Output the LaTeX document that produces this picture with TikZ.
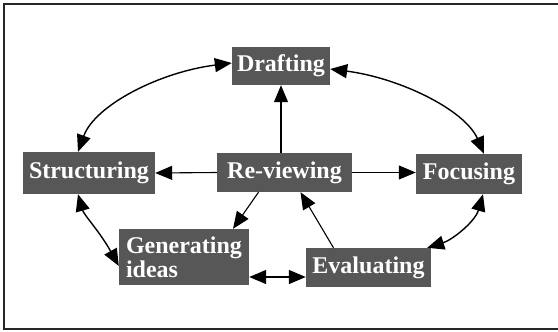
\documentclass[tikz,border=0pt]{standalone}
\usepackage{fontspec}
\setmainfont{Liberation Serif}
\usetikzlibrary{arrows.meta}
\tikzset{
  stage/.style={rectangle, fill=black!66, text=white, inner sep=0pt,
    font=\fontsize{24}{26}\selectfont\bfseries},
  tip/.tip={Triangle[length=17pt,width=14pt]},
  conn/.style={line width=1.1pt, -tip},
  bconn/.style={line width=1.4pt, tip-tip},
  frame/.style={line width=1.2pt, black!85}
}
\begin{document}
\begin{tikzpicture}[x=1pt,y=-1pt]
\useasboundingbox (0,0) rectangle (558,332);
\coordinate (ftr) at (558,4);
\coordinate (ftl) at (4,4);
\coordinate (fbl) at (4,329);
\coordinate (fbr) at (558,329);
\draw[frame] (ftr) -- (ftl) -- (fbl) -- (fbr);

\node[stage, minimum width=98pt, minimum height=38pt] (D) at (281,66) {Drafting};
\node[stage, minimum width=132pt, minimum height=42pt] (S) at (89,173) {Structuring};
\node[stage, minimum width=135pt, minimum height=39pt] (R) at (284.5,172.5) {Re-viewing};
\node[stage, minimum width=106pt, minimum height=40pt] (F) at (469,174) {Focusing};
\node[stage, minimum width=130pt, minimum height=56pt, align=left, text width=116pt,
  font=\fontsize{24}{24}\selectfont\bfseries] (G) at (184,257) {Generating\\ideas};
\node[stage, minimum width=125pt, minimum height=39pt] (E) at (368.5,267.5) {Evaluating};

% straight connectors
\draw[conn] (D.south |- R.north) -- (D.south);
\draw[conn] (R.west) -- (S.east);
\draw[conn] (R.east) -- (F.west |- R.east);
\draw[conn] ([xshift=-26pt]R.south) -- ([xshift=49pt]G.north);
\draw[conn] ([xshift=-35pt]E.north) -- ([xshift=16pt]R.south);
\draw[bconn] ([yshift=-20pt]G.east) -- ([yshift=-20pt]G.east -| E.west);

% curved connectors
\draw[bconn] ([yshift=3pt]D.west) .. controls (160,72) and (95,105) .. ([xshift=-11pt]S.north);
\draw[bconn] ([yshift=-3pt]D.east) .. controls (400,78) and (465,110) .. ([xshift=15pt]F.north);
\draw[bconn] ([xshift=-11pt]S.south) .. controls (84,215) and (100,232) .. ([yshift=-9pt]G.west);
\draw[bconn] ([xshift=14pt]F.south) .. controls (475,222) and (452,240) .. ([xshift=-4pt]E.north east);
\end{tikzpicture}
\end{document}
